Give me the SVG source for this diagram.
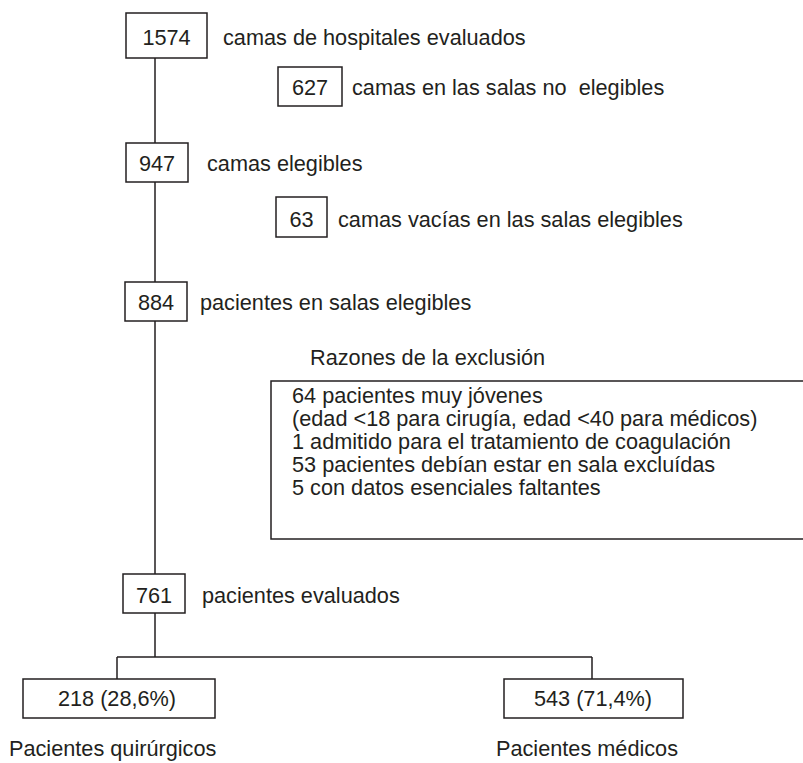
<svg xmlns="http://www.w3.org/2000/svg" width="803" height="763" viewBox="0 0 803 763">
<style>
.b{fill:#fff;stroke:#231f20;stroke-width:1.5}
.c{fill:none;stroke:#231f20;stroke-width:1.5}
text{font-family:"Liberation Sans",Arial,Helvetica,sans-serif;font-size:21.7px;fill:#231f20;white-space:pre}
.m{text-anchor:middle}
</style>
<rect width="803" height="763" fill="#fff"/>
<g id="connectors">
<path class="c" d="M155,58V143M155,182V282M155,321V574M155,613V657M117,657H592M117,657V679M592,657V679"/>
</g>
<g id="n1574">
<rect class="b" x="126" y="13" width="81" height="45"/>
<text class="m" x="166.5" y="45">1574</text>
<text x="223" y="45">camas de hospitales evaluados</text>
</g>
<g id="n627">
<rect class="b" x="278" y="67" width="64" height="39"/>
<text class="m" x="310" y="95">627</text>
<text x="352" y="95">camas en las salas no  elegibles</text>
</g>
<g id="n947">
<rect class="b" x="126" y="143" width="62" height="39"/>
<text class="m" x="157" y="171">947</text>
<text x="207" y="171">camas elegibles</text>
</g>
<g id="n63">
<rect class="b" x="276" y="197" width="51" height="40"/>
<text class="m" x="301.5" y="227">63</text>
<text x="338" y="227">camas vacías en las salas elegibles</text>
</g>
<g id="n884">
<rect class="b" x="125" y="282" width="62" height="39"/>
<text class="m" x="156" y="310">884</text>
<text x="200" y="310">pacientes en salas elegibles</text>
</g>
<g id="exclusion">
<text x="310" y="365">Razones de la exclusión</text>
<rect class="b" x="271" y="381" width="545" height="158"/>
<text x="292" y="403">64 pacientes muy jóvenes</text>
<text x="292" y="426">(edad &lt;18 para cirugía, edad &lt;40 para médicos)</text>
<text x="292" y="449">1 admitido para el tratamiento de coagulación</text>
<text x="292" y="472">53 pacientes debían estar en sala excluídas</text>
<text x="292" y="495">5 con datos esenciales faltantes</text>
</g>
<g id="n761">
<rect class="b" x="123" y="574" width="62" height="39"/>
<text class="m" x="154" y="603">761</text>
<text x="202" y="603">pacientes evaluados</text>
</g>
<g id="n218">
<rect class="b" x="23" y="679" width="192" height="39"/>
<text class="m" x="117" y="706">218 (28,6%)</text>
<text x="9" y="756">Pacientes quirúrgicos</text>
</g>
<g id="n543">
<rect class="b" x="504" y="679" width="179" height="39"/>
<text class="m" x="593" y="706">543 (71,4%)</text>
<text x="496" y="756">Pacientes médicos</text>
</g>
</svg>
